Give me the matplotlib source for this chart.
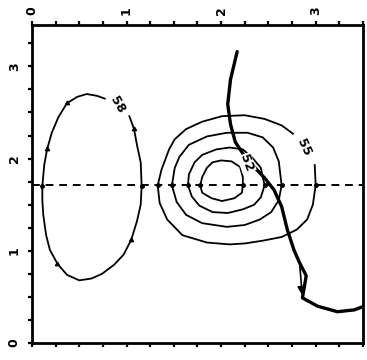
import numpy as np
import matplotlib
matplotlib.use("Agg")
import matplotlib.pyplot as plt
from matplotlib.ticker import MultipleLocator

# contours (data units)
RING1_X = [1.78, 1.80, 1.85, 1.91, 2.00, 2.11, 2.20, 2.23, 2.23, 2.22, 2.14, 2.01, 1.90, 1.80, 1.78]
RING1_Y = [1.71, 1.80, 1.90, 1.96, 1.98, 1.97, 1.91, 1.80, 1.71, 1.63, 1.57, 1.54, 1.57, 1.63, 1.71]

RING2_X = [1.65, 1.66, 1.72, 1.80, 1.95, 2.09, 2.23, 2.33, 2.42, 2.46, 2.42, 2.35, 2.23,
           2.07, 1.91, 1.77, 1.69, 1.65]
RING2_Y = [1.71, 1.83, 1.96, 2.04, 2.10, 2.12, 2.10, 2.01, 1.90, 1.71, 1.58, 1.50, 1.45,
           1.41, 1.42, 1.49, 1.59, 1.71]

RING3_X = [1.48, 1.51, 1.56, 1.66, 1.85, 2.06, 2.28, 2.44, 2.55, 2.61, 2.64, 2.61, 2.53,
           2.41, 2.25, 2.06, 1.80, 1.63, 1.53, 1.48]
RING3_Y = [1.71, 1.90, 2.02, 2.15, 2.24, 2.28, 2.28, 2.23, 2.12, 1.97, 1.71, 1.55, 1.42,
           1.34, 1.28, 1.26, 1.30, 1.39, 1.53, 1.71]

# outer ring, open where the "55" label sits
RING4_X = [2.99, 3.00, 2.97, 2.91, 2.80, 2.64, 2.44, 2.25, 2.09, 1.85, 1.59, 1.43, 1.35,
           1.33, 1.37, 1.45, 1.51, 1.63, 1.80, 2.01, 2.25, 2.46, 2.64, 2.76]
RING4_Y = [1.93, 1.71, 1.50, 1.34, 1.23, 1.15, 1.11, 1.08, 1.07, 1.09, 1.17, 1.34, 1.52,
           1.71, 1.88, 2.10, 2.21, 2.32, 2.40, 2.46, 2.47, 2.43, 2.36, 2.27]

# hachured low on the left, open at the "58" label
LOW_X = [1.03, 1.08, 1.11, 1.15, 1.16, 1.15, 1.11, 1.05, 0.97, 0.87, 0.74, 0.63, 0.50,
         0.37, 0.27, 0.19, 0.15, 0.12, 0.11, 0.11, 0.13, 0.16, 0.21, 0.28, 0.37, 0.48,
         0.58, 0.69, 0.77]
LOW_Y = [2.46, 2.32, 2.15, 1.96, 1.70, 1.50, 1.32, 1.12, 0.96, 0.85, 0.75, 0.70, 0.68,
         0.74, 0.86, 1.01, 1.17, 1.39, 1.55, 1.70, 1.93, 2.10, 2.28, 2.45, 2.60, 2.67,
         2.70, 2.68, 2.65]

TRACK_X = [2.17, 2.10, 2.07, 2.10, 2.15, 2.24, 2.34, 2.46, 2.56, 2.64, 2.70, 2.77, 2.83,
           2.90, 2.86, 3.02, 3.23, 3.41, 3.51]
TRACK_Y = [3.16, 2.86, 2.59, 2.37, 2.18, 2.04, 1.92, 1.79, 1.66, 1.48, 1.23, 1.01, 0.87,
           0.73, 0.49, 0.40, 0.34, 0.36, 0.40]

SECTION_Y = 1.71
LABELS = [("55", 2.88, 2.12, -65), ("52", 2.27, 1.95, -70), ("58", 0.90, 2.58, -60)]
TICK_LABELS = ["0", "1", "2", "3"]

fig = plt.figure(figsize=(3.67, 3.60), dpi=100)
ax = fig.add_axes([0.087, 0.047, 0.902, 0.884])

ax.plot(RING1_X, RING1_Y, color="black", lw=1.3, marker="o", ms=2.5, markevery=[0, 8])
ax.plot(RING2_X, RING2_Y, color="black", lw=1.3, marker="o", ms=2.5, markevery=[0, 9])
ax.plot(RING3_X, RING3_Y, color="black", lw=1.3, marker="o", ms=2.5, markevery=[0, 10])
ax.plot(RING4_X, RING4_Y, color="black", lw=1.3, marker="o", ms=2.5, markevery=[1, 13])
ax.plot(LOW_X, LOW_Y, color="black", lw=1.3)
ax.plot(LOW_X, LOW_Y, ls="none", color="black", marker="o", ms=2.5, markevery=[4, 19])
ax.plot(LOW_X, LOW_Y, ls="none", color="black", marker=(3, 0, 0), ms=3.5,
        markevery=[1, 7, 14, 21, 24])

ax.axhline(SECTION_Y, color="black", lw=1.4, ls=(0, (4, 3)))

ax.plot(TRACK_X, TRACK_Y, color="black", lw=2.4, solid_capstyle="round",
        solid_joinstyle="round")
ax.annotate("", xy=(TRACK_X[14], TRACK_Y[14]), xytext=(TRACK_X[12], TRACK_Y[12]),
            arrowprops=dict(arrowstyle="-|>", color="black", lw=1.2, mutation_scale=12))

for txt, x, y, rot in LABELS:
    ax.text(x, y, txt, fontsize=9, fontweight="bold", rotation=rot,
            ha="center", va="center",
            bbox=dict(fc="white", ec="none", pad=0.5))

ax.set_xlim(0, 3.5)
ax.set_ylim(0, 3.45)
ax.xaxis.set_minor_locator(MultipleLocator(0.25))
ax.yaxis.set_minor_locator(MultipleLocator(0.25))
ax.tick_params(axis="x", which="both", top=True, bottom=True, labeltop=True,
               labelbottom=False, direction="out", length=3, width=1.6)
ax.tick_params(axis="y", which="both", left=True, right=False, direction="out",
               length=3, width=1.6)
ax.set_xticks(range(len(TICK_LABELS)))
ax.set_xticklabels(TICK_LABELS, rotation=90, fontsize=9, fontweight="bold")
ax.set_yticks(range(len(TICK_LABELS)))
ax.set_yticklabels(TICK_LABELS, rotation=90, fontsize=9, fontweight="bold", va="center")
ax.tick_params(axis="x", which="major", pad=4)
ax.tick_params(axis="y", which="major", pad=5)
for s in ax.spines.values():
    s.set_linewidth(2)

fig.savefig("out.png", dpi=100)
